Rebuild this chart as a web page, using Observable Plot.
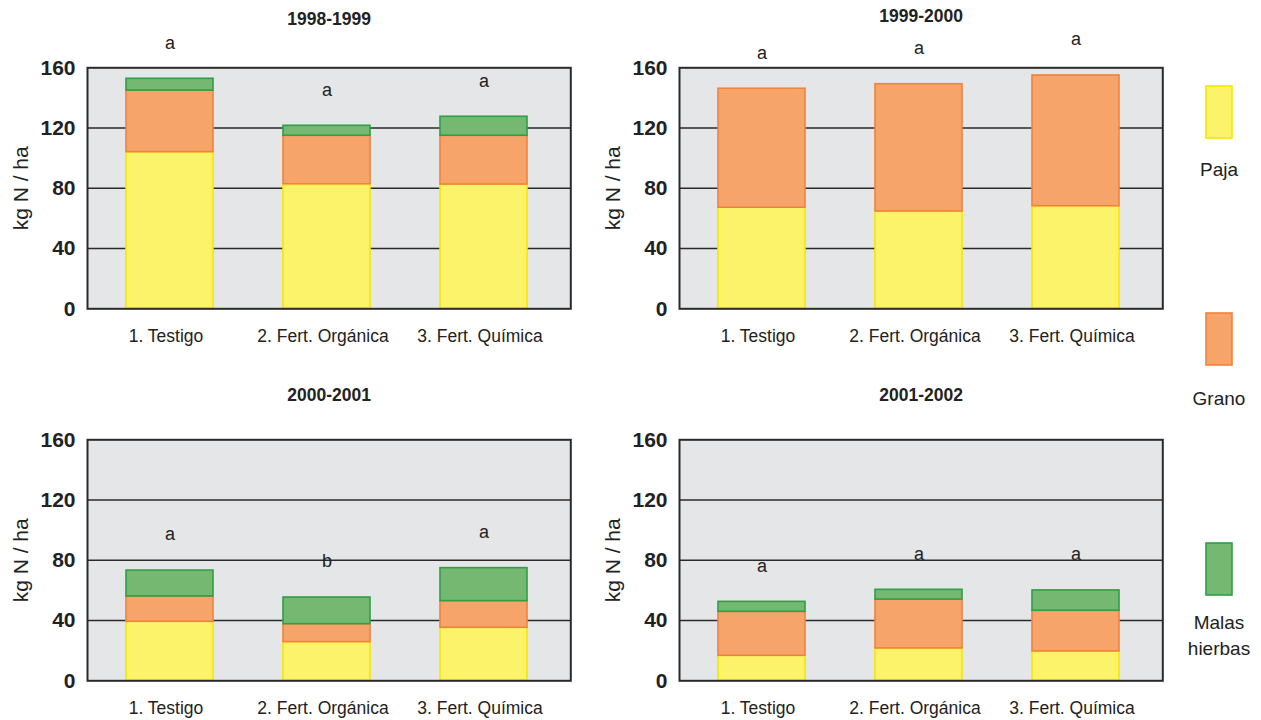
<!DOCTYPE html>
<html>
<head>
<meta charset="utf-8">
<script src="https://cdn.jsdelivr.net/npm/d3@7"></script>
<script src="https://cdn.jsdelivr.net/npm/@observablehq/plot@0.6"></script>
<style>
  html, body { margin: 0; padding: 0; background: #fff; overflow: hidden; }
  #root { position: relative; width: 1261px; height: 720px; overflow: hidden; font-family: "Liberation Sans", Arial, sans-serif; color: #222; }
  .panel { position: absolute; }
  #legend { position: absolute; left: 0; top: 0; }
</style>
</head>
<body>
<div id="root"></div>
<script>
// ---- Data ----
const years = ["1998-1999", "1999-2000", "2000-2001", "2001-2002"];
const treatments = ["1. Testigo", "2. Fert. Orgánica", "3. Fert. Química"];
const components = ["Paja", "Grano", "Malas hierbas"];
// kg N / ha, one row per season, one value per treatment
const paja  = [[104.0, 82.7, 82.5], [67.1, 64.6, 68.1], [39.2, 25.7, 35.2], [16.6, 21.5, 19.5]];
const grano = [[40.9, 32.2, 32.4], [79.0, 84.5, 86.8], [16.8, 11.9, 17.7], [29.2, 32.4, 27.0]];
const malas = [[7.8, 6.6, 12.6], [0, 0, 0], [17.2, 17.7, 21.9], [6.6, 6.5, 13.5]];
const letters = [["a", "a", "a"], ["a", "a", "a"], ["a", "b", "a"], ["a", "a", "a"]];
const yTicks = [0, 40, 80, 120, 160];
const yLabel = "kg N / ha";

// ---- Styles ----
const fills = ["#fdf36b", "#f7a46a", "#75b872"];
const strokes = ["#f7e600", "#f2823a", "#2f9f45"];
const series = [paja, grano, malas];

const root = document.getElementById("root");
const panelW = 591, panelH = 372;
const offsets = [[0, 0], [591.5, 0], [0, 371.7], [591.5, 371.7]];
const titleDy = [-48, -51, -44, -44];

years.forEach((year, i) => {
  const segs = [];
  const tops = [];
  treatments.forEach((t, j) => {
    let base = 0;
    components.forEach((c, k) => {
      const v = series[k][i][j];
      if (v > 0) segs.push({t, k, y1: base, y2: base + v});
      base += v;
    });
    tops.push({t, total: base, letter: letters[i][j]});
  });

  const plot = Plot.plot({
    width: panelW,
    height: panelH,
    marginLeft: 87,
    marginRight: 20.7,
    marginTop: 67.3,
    marginBottom: 63.7,
    style: {fontFamily: '"Liberation Sans", Arial, sans-serif', color: "#222", background: "transparent", overflow: "visible"},
    x: {type: "band", domain: treatments, range: [90, 563.1], paddingInner: 0.444, paddingOuter: 0.222, align: 0.5},
    y: {domain: [0, 160]},
    marks: [
      Plot.frame({fill: "#e5e6e8", stroke: null}),
      Plot.ruleY(yTicks.filter(d => d > 0 && d < 160), {stroke: "#2a2a2a", strokeWidth: 1.6}),
      ...components.map((c, k) => Plot.rectY(segs.filter(d => d.k === k), {
        x: "t", y1: "y1", y2: "y2", fill: fills[k], stroke: strokes[k], strokeWidth: 1.6
      })),
      Plot.frame({stroke: "#2a2a2a", strokeWidth: 2}),
      Plot.axisY({ticks: yTicks, tickSize: 0, tickPadding: 12, fontSize: 21, fontWeight: "bold", label: null}),
      Plot.axisX({tickSize: 0, tickPadding: 21, fontSize: 17.5, dx: -4, label: null}),
      Plot.text(tops, {x: "t", y: "total", text: "letter", dy: -36, fontSize: 18, fill: "#222", lineAnchor: "middle"}),
      Plot.text([year], {frameAnchor: "top", dy: titleDy[i], lineAnchor: "middle", textAnchor: "middle", fontSize: 17.5, fontWeight: "bold", fill: "#222"}),
      Plot.text([yLabel], {frameAnchor: "left", rotate: -90, dx: -66, lineAnchor: "middle", textAnchor: "middle", fontSize: 21, fill: "#222"})
    ]
  });
  plot.classList.add("panel");
  plot.style.left = offsets[i][0] + "px";
  plot.style.top = offsets[i][1] + "px";
  root.appendChild(plot);
});

// ---- Legend ----
const legendBoxY = [86, 313, 543];
const legendTextY = [176, 405, 629];
const svg = d3.select(root).append("svg")
  .attr("id", "legend")
  .attr("width", 1261).attr("height", 720)
  .style("font-family", '"Liberation Sans", Arial, sans-serif');
components.forEach((c, k) => {
  svg.append("rect")
    .attr("x", 1206).attr("y", legendBoxY[k])
    .attr("width", 26).attr("height", 52)
    .attr("fill", fills[k]).attr("stroke", strokes[k]).attr("stroke-width", 1.6);
  const words = c.split(" ");
  const t = svg.append("text")
    .attr("x", 1219).attr("y", legendTextY[k])
    .attr("text-anchor", "middle").attr("font-size", 19).attr("fill", "#222");
  words.forEach((w, n) => {
    t.append("tspan").attr("x", 1219).attr("dy", n === 0 ? 0 : 26).text(w);
  });
});
</script>
</body>
</html>
